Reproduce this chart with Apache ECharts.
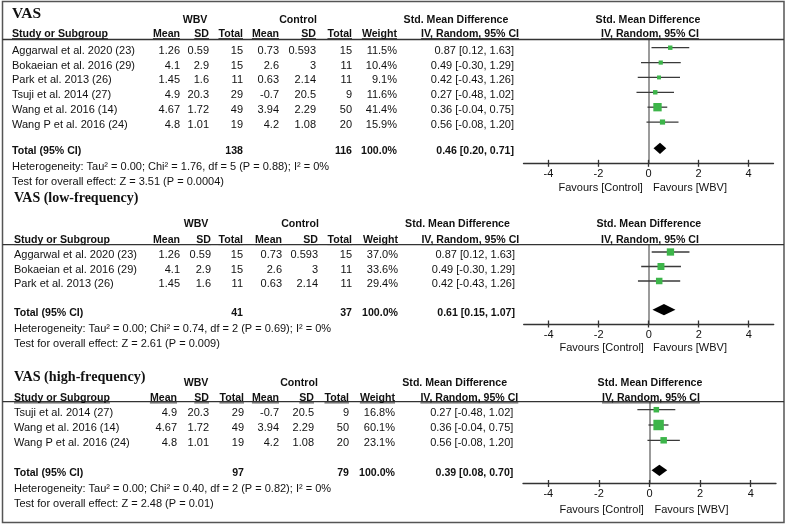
<!DOCTYPE html>
<html><head><meta charset="utf-8">
<script src="https://cdn.jsdelivr.net/npm/echarts@6/dist/echarts.min.js"></script>
<style>html,body{margin:0;padding:0;background:#fff}#c{width:787px;height:525px}</style>
</head><body><div id="c"></div>
<script>
// ================= DATA =================
const tickValues = [-4, -2, 0, 2, 4];
const favoursLabels = ['Favours [Control]', 'Favours [WBV]'];
const groupHeaders = ['WBV', 'Control'];
const columnHeaders = ['Mean', 'SD', 'Total', 'Mean', 'SD', 'Total', 'Weight'];
const studyHeader = 'Study or Subgroup';
const smdHeader = ['Std. Mean Difference', 'IV, Random, 95% CI'];
const totalLabel = 'Total (95% CI)';

// Panel 1: VAS
const vasTitle = 'VAS';
const vasStudies = ['Aggarwal et al. 2020 (23)', 'Bokaeian et al. 2016 (29)', 'Park et al. 2013 (26)', 'Tsuji et al. 2014 (27)', 'Wang et al. 2016 (14)', 'Wang P et al. 2016 (24)'];
const vasWbvMean = [1.26, 4.1, 1.45, 4.9, 4.67, 4.8];
const vasWbvSd = [0.59, 2.9, 1.6, 20.3, 1.72, 1.01];
const vasWbvN = [15, 15, 11, 29, 49, 19];
const vasCtlMean = [0.73, 2.6, 0.63, -0.7, 3.94, 4.2];
const vasCtlSd = [0.593, 3, 2.14, 20.5, 2.29, 1.08];
const vasCtlN = [15, 11, 11, 9, 50, 20];
const vasWeight = [11.5, 10.4, 9.1, 11.6, 41.4, 15.9];
const vasSmd = [0.87, 0.49, 0.42, 0.27, 0.36, 0.56];
const vasLo = [0.12, -0.30, -0.43, -0.48, -0.04, -0.08];
const vasHi = [1.63, 1.29, 1.26, 1.02, 0.75, 1.20];
const vasTotalN = [138, 116];
const vasTotalSmd = [0.46, 0.20, 0.71];
const vasHet = 'Heterogeneity: Tau² = 0.00; Chi² = 1.76, df = 5 (P = 0.88); I² = 0%';
const vasTest = 'Test for overall effect: Z = 3.51 (P = 0.0004)';

// Panel 2: VAS (low-frequency)
const lowTitle = 'VAS (low-frequency)';
const lowStudies = ['Aggarwal et al. 2020 (23)', 'Bokaeian et al. 2016 (29)', 'Park et al. 2013 (26)'];
const lowWbvMean = [1.26, 4.1, 1.45];
const lowWbvSd = [0.59, 2.9, 1.6];
const lowWbvN = [15, 15, 11];
const lowCtlMean = [0.73, 2.6, 0.63];
const lowCtlSd = [0.593, 3, 2.14];
const lowCtlN = [15, 11, 11];
const lowWeight = [37.0, 33.6, 29.4];
const lowSmd = [0.87, 0.49, 0.42];
const lowLo = [0.12, -0.30, -0.43];
const lowHi = [1.63, 1.29, 1.26];
const lowTotalN = [41, 37];
const lowTotalSmd = [0.61, 0.15, 1.07];
const lowHet = 'Heterogeneity: Tau² = 0.00; Chi² = 0.74, df = 2 (P = 0.69); I² = 0%';
const lowTest = 'Test for overall effect: Z = 2.61 (P = 0.009)';

// Panel 3: VAS (high-frequency)
const highTitle = 'VAS (high-frequency)';
const highStudies = ['Tsuji et al. 2014 (27)', 'Wang et al. 2016 (14)', 'Wang P et al. 2016 (24)'];
const highWbvMean = [4.9, 4.67, 4.8];
const highWbvSd = [20.3, 1.72, 1.01];
const highWbvN = [29, 49, 19];
const highCtlMean = [-0.7, 3.94, 4.2];
const highCtlSd = [20.5, 2.29, 1.08];
const highCtlN = [9, 50, 20];
const highWeight = [16.8, 60.1, 23.1];
const highSmd = [0.27, 0.36, 0.56];
const highLo = [-0.48, -0.04, -0.08];
const highHi = [1.02, 0.75, 1.20];
const highTotalN = [97, 79];
const highTotalSmd = [0.39, 0.08, 0.70];
const highHet = 'Heterogeneity: Tau² = 0.00; Chi² = 0.40, df = 2 (P = 0.82); I² = 0%';
const highTest = 'Test for overall effect: Z = 2.48 (P = 0.01)';

// ================= LAYOUT =================
const layouts = [
  {titleY: 13.5, titleSize: 15.5, groupY: 20, headY: 34, lineY: 39.5, rowY0: 50.7, rowDy: 14.87, totalY: 151.3, hetY: 166.7, testY: 182,
   axisY: 163.3, favY: 188.3, plotL: 523.5, plotR: 773.5, nameX: 12,
   cols: [180, 209, 243, 279, 316, 352, 397], ciR: 514, smdHdrC: 456, ivR: 519, plotHdrC: 648, plotIvC: 650,
   favC: [600.7, 690], wbvC: 195, ctlC: 298, sizeK: 1.3},
  {titleY: 198, titleSize: 14, groupY: 224, headY: 240, lineY: 244.7, rowY0: 255, rowDy: 14.5, totalY: 312.7, hetY: 328.7, testY: 344,
   axisY: 324, favY: 348.3, plotL: 523.7, plotR: 773.7, nameX: 14,
   cols: [180, 211, 243, 282, 318, 352, 398], ciR: 515, smdHdrC: 457.5, ivR: 519.3, plotHdrC: 648.8, plotIvC: 650,
   favC: [601.7, 690], wbvC: 196, ctlC: 300, sizeK: 1.2},
  {titleY: 377, titleSize: 14.2, groupY: 383, headY: 398.3, lineY: 401.7, rowY0: 412.7, rowDy: 15.3, totalY: 473.3, hetY: 489.3, testY: 504.3,
   axisY: 483.5, favY: 510, plotL: 523, plotR: 776, nameX: 14,
   cols: [177, 209, 244, 279, 314, 349, 395], ciR: 513.3, smdHdrC: 454.7, ivR: 518.3, plotHdrC: 650, plotIvC: 651,
   favC: [601.7, 691.5], wbvC: 196, ctlC: 299, sizeK: 1.35}
];

const panels = [
  {title: vasTitle, studies: vasStudies, cols: [vasWbvMean, vasWbvSd, vasWbvN, vasCtlMean, vasCtlSd, vasCtlN], weight: vasWeight,
   smd: vasSmd, lo: vasLo, hi: vasHi, totalN: vasTotalN, total: vasTotalSmd, het: vasHet, test: vasTest},
  {title: lowTitle, studies: lowStudies, cols: [lowWbvMean, lowWbvSd, lowWbvN, lowCtlMean, lowCtlSd, lowCtlN], weight: lowWeight,
   smd: lowSmd, lo: lowLo, hi: lowHi, totalN: lowTotalN, total: lowTotalSmd, het: lowHet, test: lowTest},
  {title: highTitle, studies: highStudies, cols: [highWbvMean, highWbvSd, highWbvN, highCtlMean, highCtlSd, highCtlN], weight: highWeight,
   smd: highSmd, lo: highLo, hi: highHi, totalN: highTotalN, total: highTotalSmd, het: highHet, test: highTest}
];

// ================= BUILD =================
const SANS = '"Liberation Sans", Arial, sans-serif';
const SERIF = '"Liberation Serif", "Times New Roman", serif';
const TXT = '#111';
const GREEN = '#3DB54A';
const fReg = '11px ' + SANS;
const fBold = 'bold 10.6px ' + SANS;
const mctx = document.createElement('canvas').getContext('2d');
function tw(text, font) { mctx.font = font; return mctx.measureText(text).width; }

const graphics = [];
function text(x, y, s, font, align) {
  graphics.push({type: 'text', x: x, y: y, silent: true, z: 10,
    style: {text: s, font: font, fill: TXT, align: align || 'left', verticalAlign: 'middle',
            textAlign: align || 'left', textVerticalAlign: 'middle'}});
}
function hline(x1, x2, y, w, color) {
  graphics.push({type: 'line', silent: true, z: 9, shape: {x1: x1, y1: y, x2: x2, y2: y},
    style: {stroke: color || '#333', lineWidth: w}});
}
function underlined(x, y, s, font, align) {
  text(x, y, s, font, align);
  const w = tw(s, font);
  let x1 = x;
  if (align === 'right') x1 = x - w; else if (align === 'center') x1 = x - w / 2;
  hline(x1, x1 + w, y + 4.6, 0.9, '#222');
}
const fmt2 = v => v.toFixed(2);
const ciText = (e, l, h) => fmt2(e) + ' [' + fmt2(l) + ', ' + fmt2(h) + ']';

// outer frame
graphics.push({type: 'rect', silent: true, z: 8, shape: {x: 2.5, y: 1.5, width: 781.5, height: 521},
  style: {fill: 'none', stroke: '#555', lineWidth: 1.5}});

const grids = [], xAxes = [], yAxes = [], series = [];

panels.forEach((p, k) => {
  const L = layouts[k];
  // --- table text ---
  text(L.nameX, L.titleY, p.title, 'bold ' + L.titleSize + 'px ' + SERIF, 'left');
  text(L.wbvC, L.groupY, groupHeaders[0], fBold, 'center');
  text(L.ctlC, L.groupY, groupHeaders[1], fBold, 'center');
  text(L.smdHdrC, L.groupY, smdHeader[0], fBold, 'center');
  text(L.plotHdrC, L.groupY, smdHeader[0], fBold, 'center');
  underlined(L.nameX, L.headY, studyHeader, fBold, 'left');
  columnHeaders.forEach((h, j) => underlined(L.cols[j], L.headY, h, fBold, 'right'));
  underlined(L.ivR, L.headY, smdHeader[1], fBold, 'right');
  underlined(L.plotIvC, L.headY, smdHeader[1], fBold, 'center');
  hline(2.5, 784, L.lineY, 1.3, '#333');

  p.studies.forEach((s, i) => {
    const y = L.rowY0 + i * L.rowDy;
    text(L.nameX, y, s, fReg, 'left');
    p.cols.forEach((c, j) => text(L.cols[j], y, String(c[i]), fReg, 'right'));
    text(L.cols[6], y, p.weight[i].toFixed(1) + '%', fReg, 'right');
    text(L.ciR, y, ciText(p.smd[i], p.lo[i], p.hi[i]), fReg, 'right');
  });
  text(L.nameX, L.totalY, totalLabel, fBold, 'left');
  text(L.cols[2], L.totalY, String(p.totalN[0]), fBold, 'right');
  text(L.cols[5], L.totalY, String(p.totalN[1]), fBold, 'right');
  text(L.cols[6], L.totalY, '100.0%', fBold, 'right');
  text(L.ciR, L.totalY, ciText(p.total[0], p.total[1], p.total[2]), fBold, 'right');
  text(L.nameX, L.hetY, p.het, fReg, 'left');
  text(L.nameX, L.testY, p.test, fReg, 'left');
  text(L.favC[0], L.favY, favoursLabels[0], fReg, 'center');
  text(L.favC[1], L.favY, favoursLabels[1], fReg, 'center');

  // --- plot ---
  const markerOffset = -3; // marks sit slightly above text centre
  const base = L.rowY0 + markerOffset;
  const yMin = (L.lineY - base) / L.rowDy;
  const yMax = (L.axisY - base) / L.rowDy;
  const totalIdx = (L.totalY - L.rowY0) / L.rowDy;

  grids.push({left: L.plotL, top: L.lineY, width: L.plotR - L.plotL, height: L.axisY - L.lineY, containLabel: false});
  xAxes.push({type: 'value', gridIndex: k, min: -5, max: 5, position: 'bottom',
    axisLine: {show: true, onZero: false, lineStyle: {color: '#333', width: 1.3}},
    axisTick: {show: true, length: 3.5, customValues: tickValues, lineStyle: {color: '#333', width: 1.3}},
    axisLabel: {show: true, customValues: tickValues, margin: 5, fontSize: 11, fontFamily: SANS, color: TXT},
    splitLine: {show: false}});
  xAxes.push({type: 'value', gridIndex: k, min: -5, max: 5, position: 'bottom',
    axisLine: {show: false, onZero: false},
    axisTick: {show: true, inside: true, length: 3.5, customValues: tickValues, lineStyle: {color: '#333', width: 1.3}},
    axisLabel: {show: false}, splitLine: {show: false}});
  yAxes.push({type: 'value', gridIndex: k, inverse: true, min: yMin, max: yMax,
    axisLine: {show: true, onZero: true, onZeroAxisIndex: 2 * k, lineStyle: {color: '#7a7a7a', width: 1.5}},
    axisTick: {show: false}, axisLabel: {show: false}, splitLine: {show: false}});

  const whiskers = p.studies.map((s, i) => [p.lo[i], p.hi[i], i]);
  series.push({type: 'custom', xAxisIndex: 2 * k, yAxisIndex: k, z: 3, silent: true,
    encode: {x: [0, 1], y: 2}, data: whiskers,
    renderItem: (params, api) => {
      const a = api.coord([api.value(0), api.value(2)]);
      const b = api.coord([api.value(1), api.value(2)]);
      return {type: 'line', shape: {x1: a[0], y1: a[1], x2: b[0], y2: b[1]}, style: {stroke: '#3a3a3a', lineWidth: 1.3}};
    }});
  series.push({type: 'scatter', xAxisIndex: 2 * k, yAxisIndex: k, z: 4, silent: true, symbol: 'rect',
    data: p.smd.map((v, i) => [v, i, p.weight[i]]),
    symbolSize: d => L.sizeK * Math.sqrt(d[2]),
    itemStyle: {color: GREEN, opacity: 1}});
  series.push({type: 'custom', xAxisIndex: 2 * k, yAxisIndex: k, z: 4, silent: true,
    encode: {x: [0, 1, 2], y: 3}, data: [[p.total[0], p.total[1], p.total[2], totalIdx]],
    renderItem: (params, api) => {
      const c = api.coord([api.value(0), api.value(3)]);
      const l = api.coord([api.value(1), api.value(3)]);
      const r = api.coord([api.value(2), api.value(3)]);
      const h = 5.6;
      return {type: 'polygon', shape: {points: [[l[0], c[1]], [c[0], c[1] - h], [r[0], c[1]], [c[0], c[1] + h]]},
        style: {fill: '#000'}};
    }});
});

const chart = echarts.init(document.getElementById('c'), null, {renderer: 'canvas'});
chart.setOption({
  animation: false,
  backgroundColor: '#fff',
  grid: grids, xAxis: xAxes, yAxis: yAxes, series: series,
  graphic: {elements: graphics}
});
</script></body></html>
